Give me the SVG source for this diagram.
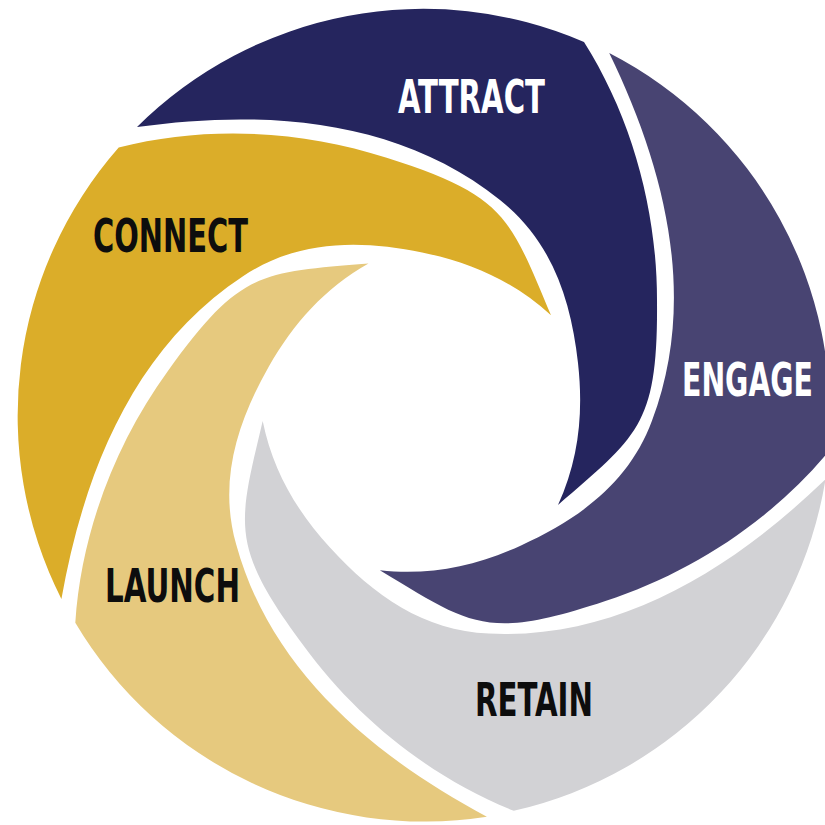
<svg xmlns="http://www.w3.org/2000/svg" xmlns:xlink="http://www.w3.org/1999/xlink" width="825" height="825" viewBox="0 0 825 825">
<style>
  .lbl { font-family: 'DejaVu Sans Condensed', 'Liberation Sans Narrow', 'DejaVu Sans', sans-serif; font-weight: bold; font-stretch: condensed; font-size: 34px; }
  .light { fill: #ffffff; }
  .dark { fill: #0d0d0d; }
</style>
<defs>
  <path id="blade" d="M 160,-373 C 208,-297 233,-205 233,-115 C 234,10 215,20 134,90 C 155,44 159.5,-2.5 154,-52 C 147,-116 127,-175 76,-215 C -25,-296 -158,-306 -287,-288 A 406 406 0 0 1 160,-373 Z"/>
</defs>
<rect width="825" height="825" fill="#ffffff"/>
<g id="connectors"></g>
<g id="attract">
  <use xlink:href="#blade" href="#blade" transform="translate(424 415)" fill="#25255e"/>
  <text class="lbl light" transform="translate(398 113) scale(1 1.36)" x="0" y="0" textLength="147" lengthAdjust="spacingAndGlyphs">ATTRACT</text>
</g>
<g id="engage">
  <use xlink:href="#blade" href="#blade" transform="translate(424 415) rotate(72)" fill="#484472"/>
  <text class="lbl light" transform="translate(682 396) scale(1 1.36)" x="0" y="0" textLength="131" lengthAdjust="spacingAndGlyphs">ENGAGE</text>
</g>
<g id="retain">
  <use xlink:href="#blade" href="#blade" transform="translate(424 415) rotate(144)" fill="#d2d2d5"/>
  <text class="lbl dark" transform="translate(475 716) scale(1 1.36)" x="0" y="0" textLength="118" lengthAdjust="spacingAndGlyphs">RETAIN</text>
</g>
<g id="launch">
  <use xlink:href="#blade" href="#blade" transform="translate(424 415) rotate(216)" fill="#e6c97e"/>
  <text class="lbl dark" transform="translate(105 602) scale(1 1.36)" x="0" y="0" textLength="135" lengthAdjust="spacingAndGlyphs">LAUNCH</text>
</g>
<g id="connect">
  <use xlink:href="#blade" href="#blade" transform="translate(424 415) rotate(288)" fill="#dbad29"/>
  <text class="lbl dark" transform="translate(93 252) scale(1 1.36)" x="0" y="0" textLength="155" lengthAdjust="spacingAndGlyphs">CONNECT</text>
</g>
</svg>
